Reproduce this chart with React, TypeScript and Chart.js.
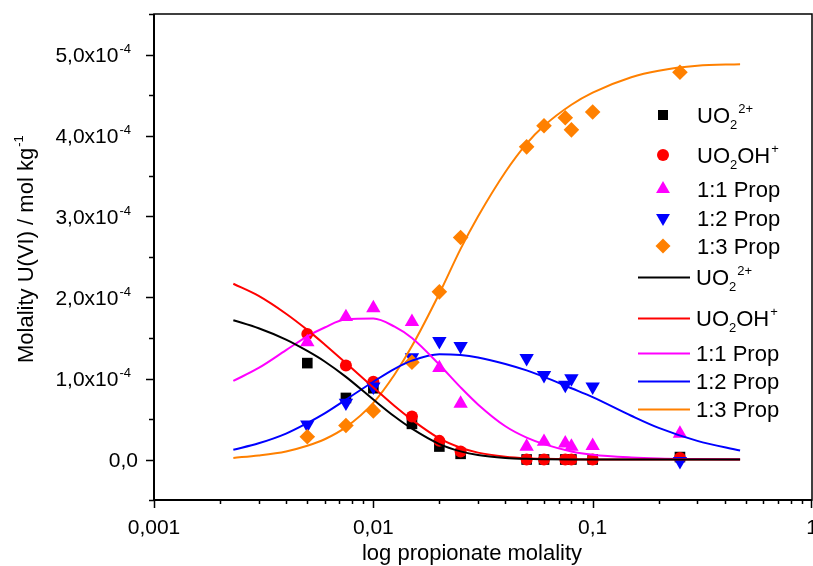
import React, { useEffect, useRef } from 'react';
import { Chart, registerables } from 'chart.js';

Chart.register(...registerables);

const FONT = '"Liberation Sans", Arial, Helvetica, sans-serif';

// ---------------- data (molality in units of 1e-4 mol/kg) ----------------
const xMeasured = [0.005, 0.0075, 0.01, 0.015, 0.02, 0.025, 0.05, 0.06, 0.075, 0.08, 0.1, 0.25];
const uo2Measured = [1.19, 0.76, 0.88, 0.44, 0.16, 0.07, 0, 0, 0, 0, 0, 0.03];
const uo2ohMeasured = [1.55, 1.16, 0.96, 0.53, 0.23, 0.1, 0, 0, 0, 0, 0, 0.02];
const prop11Measured = [1.45, 1.76, 1.87, 1.7, 1.13, 0.69, 0.16, 0.22, 0.2, 0.16, 0.17, 0.32];
const prop12Measured = [0.43, 0.7, 0.9, 1.26, 1.46, 1.4, 1.25, 1.04, 0.92, 1.0, 0.9, -0.02];
const prop13Measured = [0.28, 0.42, 0.6, 1.2, 2.07, 2.74, 3.86, 4.12, 4.22, 4.07, 4.29, 4.78];

const xFit = [0.0023, 0.003, 0.004, 0.005, 0.006, 0.0075, 0.01, 0.0125, 0.015, 0.02, 0.025, 0.03, 0.04, 0.05, 0.06, 0.08, 0.1, 0.15, 0.2, 0.3, 0.47];
const uo2Fit = [1.72, 1.62, 1.48, 1.34, 1.21, 1.02, 0.74, 0.53, 0.38, 0.19, 0.1, 0.055, 0.02, 0.008, 0.004, 0.001, 0, 0, 0, 0, 0];
const uo2ohFit = [2.17, 2.02, 1.8, 1.6, 1.42, 1.19, 0.89, 0.66, 0.49, 0.26, 0.145, 0.085, 0.035, 0.015, 0.008, 0.003, 0.001, 0, 0, 0, 0];
const prop11Fit = [0.97, 1.13, 1.35, 1.52, 1.63, 1.73, 1.74, 1.64, 1.5, 1.17, 0.89, 0.68, 0.41, 0.27, 0.19, 0.1, 0.06, 0.025, 0.012, 0.005, 0.002];
const prop12Fit = [0.12, 0.2, 0.32, 0.45, 0.57, 0.74, 0.96, 1.12, 1.22, 1.3, 1.29, 1.26, 1.18, 1.1, 1.02, 0.88, 0.77, 0.54, 0.39, 0.23, 0.11];
const prop13Fit = [0.02, 0.05, 0.1, 0.17, 0.25, 0.4, 0.7, 1.05, 1.4, 2.05, 2.6, 3.0, 3.55, 3.9, 4.12, 4.38, 4.53, 4.72, 4.8, 4.86, 4.88];

// ---------------- axes / labels ----------------
const xMin = 0.001;
const xMax = 1;
const yMin = -0.5;
const yMax = 5.5;
const xTickValues = [0.001, 0.01, 0.1, 1];
const xTickLabels = ['0,001', '0,01', '0,1', '1'];
const yTickValues = [0, 1, 2, 3, 4, 5];
const yTickMantissas = ['0,0', '1,0', '2,0', '3,0', '4,0', '5,0'];
const yTickExponent = '-4';
const xTitle = 'log propionate molality';
const yTitle = 'Molality U(VI) / mol kg';
const yTitleSup = '-1';

type Part = { t: string; k?: 'sub' | 'sup' };
const seriesNames: Part[][] = [
  [{ t: 'UO' }, { t: '2', k: 'sub' }, { t: '2+', k: 'sup' }],
  [{ t: 'UO' }, { t: '2', k: 'sub' }, { t: 'OH' }, { t: '+', k: 'sup' }],
  [{ t: '1:1 Prop' }],
  [{ t: '1:2 Prop' }],
  [{ t: '1:3 Prop' }],
];
const seriesPlain = ['UO₂²⁺', 'UO₂OH⁺', '1:1 Prop', '1:2 Prop', '1:3 Prop'];
const seriesColors = ['#000000', '#ff0000', '#ff00ff', '#0000ff', '#ff8000'];
const seriesMarkers = ['rect', 'circle', 'triangle', 'triangleDown', 'rectRot'];
const measured = [uo2Measured, uo2ohMeasured, prop11Measured, prop12Measured, prop13Measured];
const fits = [uo2Fit, uo2ohFit, prop11Fit, prop12Fit, prop13Fit];

const MAIN = 21;
const LEGEND = 22;
const SMALL = 13;

function drawRich(ctx: CanvasRenderingContext2D, parts: Part[], x: number, baseline: number, size = LEGEND) {
  let cx = x;
  ctx.textAlign = 'left';
  ctx.textBaseline = 'alphabetic';
  for (const p of parts) {
    if (p.k === 'sub') {
      ctx.font = `${SMALL}px ${FONT}`;
      ctx.fillText(p.t, cx, baseline + 6);
    } else if (p.k === 'sup') {
      ctx.font = `${SMALL}px ${FONT}`;
      ctx.fillText(p.t, cx + 1, baseline - 10);
      cx += 1;
    } else {
      ctx.font = `${size}px ${FONT}`;
      ctx.fillText(p.t, cx, baseline);
    }
    cx += ctx.measureText(p.t).width;
  }
}

function drawMarker(ctx: CanvasRenderingContext2D, kind: string, x: number, y: number, color: string) {
  ctx.fillStyle = color;
  ctx.beginPath();
  if (kind === 'rect') {
    ctx.rect(x - 5, y - 5, 10, 10);
  } else if (kind === 'circle') {
    ctx.arc(x, y, 6, 0, Math.PI * 2);
  } else if (kind === 'triangle') {
    const r = 8;
    ctx.moveTo(x, y - r);
    ctx.lineTo(x + r * Math.sin((2 * Math.PI) / 3), y + r / 2);
    ctx.lineTo(x - r * Math.sin((2 * Math.PI) / 3), y + r / 2);
    ctx.closePath();
  } else if (kind === 'triangleDown') {
    const r = 8;
    ctx.moveTo(x, y + r);
    ctx.lineTo(x + r * Math.sin((2 * Math.PI) / 3), y - r / 2);
    ctx.lineTo(x - r * Math.sin((2 * Math.PI) / 3), y - r / 2);
    ctx.closePath();
  } else {
    const r = 7.5;
    ctx.moveTo(x, y - r);
    ctx.lineTo(x + r, y);
    ctx.lineTo(x, y + r);
    ctx.lineTo(x - r, y);
    ctx.closePath();
  }
  ctx.fill();
}

const framePlugin = {
  id: 'originFrame',
  afterDraw(chart: any) {
    const { ctx, chartArea: a, scales } = chart;
    const xs = scales.x;
    const ys = scales.y;
    ctx.save();
    ctx.strokeStyle = '#000';
    ctx.fillStyle = '#000';
    // frame
    ctx.lineWidth = 1.5;
    ctx.strokeRect(a.left, a.top, a.right - a.left, a.bottom - a.top);
    ctx.lineWidth = 2;
    ctx.beginPath();
    ctx.moveTo(a.left, a.top);
    ctx.lineTo(a.left, a.bottom);
    ctx.lineTo(a.right, a.bottom);
    ctx.stroke();

    // x ticks (log, major + minor)
    ctx.lineWidth = 1.5;
    ctx.beginPath();
    for (let d = Math.log10(xMin); d < Math.log10(xMax); d++) {
      for (let m = 1; m <= 9; m++) {
        const v = m * Math.pow(10, d);
        const px = Math.round(xs.getPixelForValue(v)) + 0.5;
        const len = m === 1 ? 8 : 4;
        ctx.moveTo(px, a.bottom);
        ctx.lineTo(px, a.bottom + len);
      }
    }
    const pxEnd = Math.round(xs.getPixelForValue(xMax)) - 0.5;
    ctx.moveTo(pxEnd, a.bottom);
    ctx.lineTo(pxEnd, a.bottom + 8);
    // y ticks
    for (let v = yMin; v <= yMax + 1e-9; v += 0.5) {
      const py = Math.round(ys.getPixelForValue(v)) + 0.5;
      const major = Math.abs(v - Math.round(v)) < 1e-9;
      const len = major ? 8 : 5;
      ctx.moveTo(a.left, py);
      ctx.lineTo(a.left - len, py);
    }
    ctx.stroke();

    // x tick labels
    ctx.font = `${MAIN}px ${FONT}`;
    ctx.textAlign = 'center';
    ctx.textBaseline = 'alphabetic';
    xTickValues.forEach((v, i) => {
      ctx.fillText(xTickLabels[i], xs.getPixelForValue(v), a.bottom + 34);
    });

    // y tick labels
    yTickValues.forEach((v, i) => {
      const py = ys.getPixelForValue(v);
      const base = py + 7.5;
      ctx.textAlign = 'right';
      ctx.font = `${MAIN}px ${FONT}`;
      if (v === 0) {
        ctx.fillText(yTickMantissas[i], a.left - 16, base);
      } else {
        ctx.font = `${SMALL}px ${FONT}`;
        const supW = ctx.measureText(yTickExponent).width;
        const right = a.left - 24;
        ctx.textAlign = 'left';
        ctx.fillText(yTickExponent, right - supW + 1, base - 9);
        ctx.textAlign = 'right';
        ctx.font = `${MAIN}px ${FONT}`;
        ctx.fillText(yTickMantissas[i] + 'x10', right - supW, base);
      }
    });

    // axis titles
    ctx.font = `22px ${FONT}`;
    ctx.textAlign = 'center';
    ctx.fillText(xTitle, 472, a.bottom + 60);

    ctx.save();
    ctx.translate(33, 363);
    ctx.rotate(-Math.PI / 2);
    ctx.textAlign = 'left';
    ctx.font = `22px ${FONT}`;
    ctx.fillText(yTitle, 0, 0);
    const w = ctx.measureText(yTitle).width;
    ctx.font = `${SMALL}px ${FONT}`;
    ctx.fillText(yTitleSup, w + 1, -10);
    ctx.restore();

    // legend
    const markerRows = [115, 155, 189, 218, 246];
    const lineRows = [277, 318, 353, 381, 409];
    seriesNames.forEach((parts, i) => {
      drawMarker(ctx, seriesMarkers[i], 663, markerRows[i], seriesColors[i]);
      ctx.fillStyle = '#000';
      drawRich(ctx, parts, 697, markerRows[i] + 8);
    });
    seriesNames.forEach((parts, i) => {
      ctx.strokeStyle = seriesColors[i];
      ctx.lineWidth = 2;
      ctx.beginPath();
      ctx.moveTo(638, lineRows[i] + 0.5);
      ctx.lineTo(690, lineRows[i] + 0.5);
      ctx.stroke();
      ctx.fillStyle = '#000';
      drawRich(ctx, parts, 696, lineRows[i] + 8);
    });
    ctx.restore();
  },
};

function pointStyleOf(kind: string) {
  if (kind === 'triangleDown') return 'triangle';
  return kind;
}

export default function App() {
  const canvasRef = useRef<HTMLCanvasElement | null>(null);

  useEffect(() => {
    const canvas = canvasRef.current;
    if (!canvas) return;
    const datasets: any[] = [];
    fits.forEach((arr, i) => {
      datasets.push({
        type: 'line',
        label: seriesPlain[i] + ' fit',
        data: xFit.map((x, j) => ({ x, y: arr[j] })),
        borderColor: seriesColors[i],
        borderWidth: 2,
        pointRadius: 0,
        showLine: true,
        fill: false,
        cubicInterpolationMode: 'monotone',
        order: 1,
      });
    });
    measured.forEach((arr, i) => {
      const kind = seriesMarkers[i];
      datasets.push({
        type: 'scatter',
        label: seriesPlain[i],
        data: xMeasured.map((x, j) => ({ x, y: arr[j] })),
        backgroundColor: seriesColors[i],
        borderColor: seriesColors[i],
        borderWidth: 0,
        pointStyle: pointStyleOf(kind),
        pointRotation: kind === 'triangleDown' ? 180 : 0,
        pointRadius: kind === 'circle' ? 6 : kind === 'rect' ? 7.5 : kind === 'rectRot' ? 7.8 : 8.3,
        showLine: false,
        order: 10 - i,
      });
    });

    const chart = new Chart(canvas, {
      type: 'scatter',
      data: { datasets },
      options: {
        responsive: false,
        animation: false,
        devicePixelRatio: 1,
        layout: { autoPadding: false, padding: { left: 154, top: 14, right: 1, bottom: 66 } },
        plugins: { legend: { display: false }, tooltip: { enabled: false } },
        scales: {
          x: { type: 'logarithmic', min: xMin, max: xMax, display: false },
          y: { type: 'linear', min: yMin, max: yMax, display: false },
        },
      },
      plugins: [framePlugin],
    } as any);
    return () => chart.destroy();
  }, []);

  return (
    <div style={{ position: 'fixed', left: 0, top: 0, width: 813, height: 566, background: '#fff' }}>
      <canvas ref={canvasRef} width={813} height={566} style={{ display: 'block' }} />
    </div>
  );
}
